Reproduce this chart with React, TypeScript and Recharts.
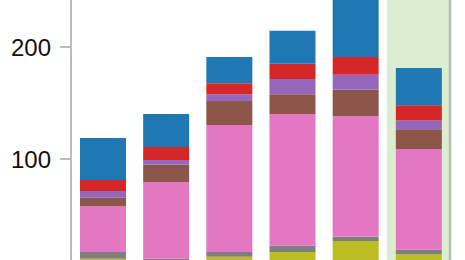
import React from "react";
import { BarChart, Bar, XAxis, YAxis, ReferenceArea } from "recharts";

const categories = ["A", "B", "C", "D", "E", "F"];
const olive = [11, 4, 12.8, 17, 26.8, 14.9];
const grey = [6, 7, 4.2, 5.6, 3.8, 4.1];
const pink = [40.8, 68.5, 113.4, 117.6, 107.8, 89.9];
const brown = [7.7, 15.4, 21.4, 17.6, 23.5, 17.6];
const purple = [5.9, 4.2, 6, 13.6, 13.4, 8];
const red = [9.85, 11.6, 9.8, 13.7, 15.8, 13.4];
const blue = [37.5, 29.5, 23.5, 29.5, 60, 33.35];
const yTicks = [100, 200];
const highlighted = "F";

const data = categories.map((name, i) => ({
  name,
  olive: olive[i],
  grey: grey[i],
  pink: pink[i],
  brown: brown[i],
  purple: purple[i],
  red: red[i],
  blue: blue[i],
}));

const series: [string, string][] = [
  ["olive", "#bcbd22"],
  ["grey", "#7f7f7f"],
  ["pink", "#e377c2"],
  ["brown", "#8c564b"],
  ["purple", "#9467bd"],
  ["red", "#d62728"],
  ["blue", "#1f77b4"],
];

export default function App() {
  return (
    <div
      style={{
        position: "fixed",
        left: 0,
        top: 0,
        width: 465,
        height: 260,
        overflow: "hidden",
        background: "#fff",
      }}
    >
      <div style={{ position: "absolute", left: 0, top: -65 }}>
        <BarChart
          width={465}
          height={346}
          data={data}
          margin={{ top: 0, right: 14, bottom: 10, left: 0 }}
          barSize={46}
        >
          <XAxis dataKey="name" hide />
          <ReferenceArea
            yAxisId="l"
            x1={highlighted}
            x2={highlighted}
            fill="#dbefd0"
            fillOpacity={1}
            stroke="none"
          />
          <YAxis
            yAxisId="l"
            domain={[0, 300]}
            ticks={yTicks}
            width={71}
            tickSize={11}
            tickMargin={9}
            axisLine={{ stroke: "#bbbbbb", strokeWidth: 2 }}
            tickLine={{ stroke: "#bbbbbb", strokeWidth: 2 }}
            tick={{ fill: "#111", fontSize: 24, fontFamily: "Liberation Sans, Arial, sans-serif" }}
          />
          <YAxis
            yAxisId="r"
            orientation="right"
            domain={[0, 300]}
            width={1}
            tick={false}
            tickLine={false}
            axisLine={{ stroke: "#bbbbbb", strokeWidth: 2.5 }}
          />
          {series.map(([key, color]) => (
            <Bar
              key={key}
              yAxisId="l"
              dataKey={key}
              stackId="a"
              fill={color}
              isAnimationActive={false}
            />
          ))}
        </BarChart>
      </div>
    </div>
  );
}
